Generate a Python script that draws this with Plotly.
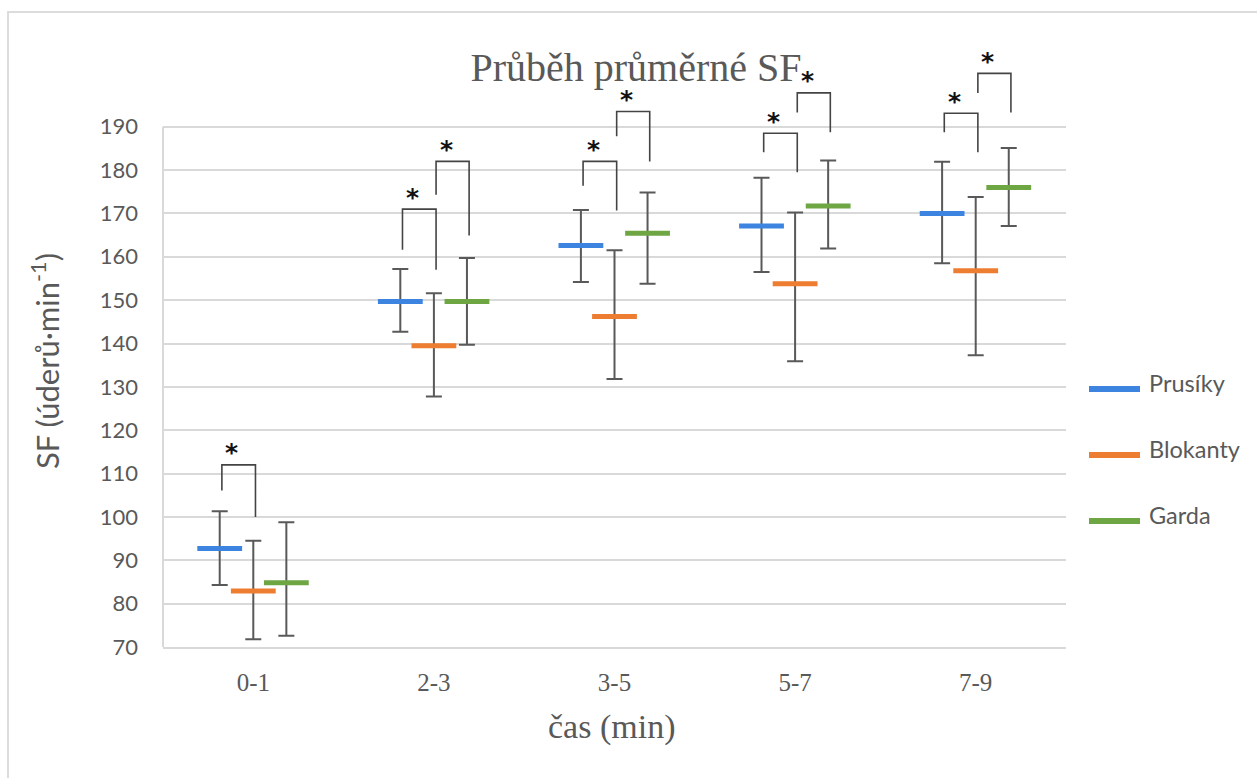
import plotly.graph_objects as go

# ---------------- data ----------------
categories = ["0-1", "2-3", "3-5", "5-7", "7-9"]
series_names = ["Prusíky", "Blokanty", "Garda"]

prusiky_mean = [92.7, 149.7, 162.6, 167.1, 170.0]
prusiky_hi = [101.3, 157.2, 170.8, 178.2, 181.9]
prusiky_lo = [84.3, 142.7, 154.2, 156.5, 158.5]

blokanty_mean = [82.9, 139.5, 146.2, 153.8, 156.8]
blokanty_hi = [94.5, 151.6, 161.5, 170.2, 173.8]
blokanty_lo = [71.8, 127.8, 131.8, 135.9, 137.3]

garda_mean = [84.8, 149.7, 165.4, 171.7, 176.0]
garda_hi = [98.8, 159.7, 174.8, 182.2, 185.1]
garda_lo = [72.6, 139.7, 153.8, 161.9, 167.1]

# significance brackets (category, left series, right series, top, left end, right end)
sig_category = ["0-1", "2-3", "2-3", "3-5", "3-5", "5-7", "5-7", "7-9", "7-9"]
sig_left = ["Prusíky", "Prusíky", "Blokanty", "Prusíky", "Blokanty", "Prusíky", "Blokanty", "Prusíky", "Blokanty"]
sig_right = ["Blokanty", "Blokanty", "Garda", "Blokanty", "Garda", "Blokanty", "Garda", "Blokanty", "Garda"]
sig_top = [112.0, 171.0, 182.0, 182.0, 193.5, 188.5, 197.8, 193.1, 202.3]
sig_left_end = [106.1, 161.6, 174.3, 176.4, 187.8, 184.1, 193.3, 188.7, 197.8]
sig_right_end = [100.0, 157.0, 164.9, 170.7, 182.0, 179.5, 188.7, 184.1, 193.3]

y_ticks = [70, 80, 90, 100, 110, 120, 130, 140, 150, 160, 170, 180, 190]

# ---------------- style ----------------
colors = {"Prusíky": "#3c84e0", "Blokanty": "#ed7d31", "Garda": "#6ea644"}
offsets = {"Prusíky": -0.186, "Blokanty": 0.0, "Garda": 0.183}
bracket_shift = 0.012
GRAY = "#595959"
GRID = "#d9d9d9"

series = {
    "Prusíky": (prusiky_mean, prusiky_hi, prusiky_lo),
    "Blokanty": (blokanty_mean, blokanty_hi, blokanty_lo),
    "Garda": (garda_mean, garda_hi, garda_lo),
}

fig = go.Figure()
cat_index = {c: i for i, c in enumerate(categories)}

for name in series_names:
    mean, hi, lo = series[name]
    xs = [i + offsets[name] for i in range(len(categories))]
    fig.add_trace(go.Scatter(
        x=xs, y=mean, mode="markers", name=name, showlegend=False,
        marker=dict(symbol="line-ew", size=32, color=colors[name],
                    line=dict(color=colors[name], width=5)),
        error_y=dict(type="data", symmetric=False,
                     array=[h - m for h, m in zip(hi, mean)],
                     arrayminus=[m - l for m, l in zip(mean, lo)],
                     color=GRAY, thickness=2, width=8),
    ))

# brackets
bx, by = [], []
annotations = []
for cat, ls, rs, top, le, re in zip(sig_category, sig_left, sig_right, sig_top, sig_left_end, sig_right_end):
    i = cat_index[cat]
    xl = i + offsets[ls] + bracket_shift
    xr = i + offsets[rs] + bracket_shift
    bx += [xl, xl, xr, xr, None]
    by += [le, top, top, re, None]
    annotations.append(dict(x=xl, y=top, xref="x", yref="y", text="<b>*</b>", showarrow=False,
                            xshift=10, yshift=12, yanchor="middle", xanchor="center",
                            font=dict(family="DejaVu Sans", size=25, color="#111111")))
fig.add_trace(go.Scatter(x=bx, y=by, mode="lines", showlegend=False,
                         line=dict(color="#444444", width=1.6), hoverinfo="skip"))

# plot geometry (pixels) for paper-coordinate decorations
W, H = 1257, 778
L, R, T, B = 163, 191, 53, 131
pw, ph = W - L - R, H - T - B
def px(xp):
    return (xp - L) / pw
def py(yp):
    return (H - B - yp) / ph

shapes = []
# left axis line from 70 to 190
shapes.append(dict(type="line", xref="paper", yref="y", x0=0, x1=0, y0=y_ticks[0], y1=y_ticks[-1],
                   line=dict(color=GRID, width=2)))
# outer frame
shapes.append(dict(type="rect", xref="paper", yref="paper", x0=px(8), x1=px(1275), y0=py(795), y1=py(12),
                   line=dict(color="#dcdcdc", width=2), fillcolor="rgba(0,0,0,0)", layer="below"))

# manual legend
for k, name in enumerate(series_names):
    yl = 389 + k * 66
    shapes.append(dict(type="line", xref="paper", yref="paper", x0=px(1089), x1=px(1140),
                       y0=py(yl), y1=py(yl), line=dict(color=colors[name], width=6)))
    annotations.append(dict(x=px(1147), y=py(yl - 6), xref="paper", yref="paper", text=name,
                            showarrow=False, xanchor="left", yanchor="middle",
                            font=dict(family="Lato", size=23.5, color=GRAY)))

# axis titles
annotations.append(dict(x=px(611), y=py(727), xref="paper", yref="paper", text="čas (min)",
                        showarrow=False, xanchor="center", yanchor="middle",
                        font=dict(family="Liberation Serif", size=34, color=GRAY)))
annotations.append(dict(x=px(45), y=py(361), xref="paper", yref="paper",
                        text="SF (úderů·min<sup>-1</sup>)", textangle=-90,
                        showarrow=False, xanchor="center", yanchor="middle",
                        font=dict(family="Lato", size=31, color=GRAY)))

fig.update_layout(
    width=W, height=H,
    margin=dict(l=L, r=R, t=T, b=B),
    paper_bgcolor="white", plot_bgcolor="white",
    title=dict(text="Průběh průměrné SF", x=636 / W, xanchor="center", y=1 - 67 / H, yanchor="middle",
               font=dict(family="Liberation Serif", size=40, color=GRAY)),
    xaxis=dict(range=[-0.5, len(categories) - 0.5], tickvals=list(range(len(categories))),
               ticktext=categories, showgrid=False, zeroline=False, showline=True,
               linecolor=GRID, linewidth=2, ticks="", ticklabelstandoff=12,
               tickfont=dict(family="Liberation Serif", size=25, color=GRAY)),
    yaxis=dict(range=[70, 207], tickvals=y_ticks, showgrid=True, gridcolor=GRID, gridwidth=2,
               zeroline=False, showline=False, ticks="", ticklabelstandoff=24,
               tickfont=dict(family="Lato", size=22, color=GRAY)),
    shapes=shapes,
    annotations=annotations,
    showlegend=False,
)

fig.write_html("out.html")
